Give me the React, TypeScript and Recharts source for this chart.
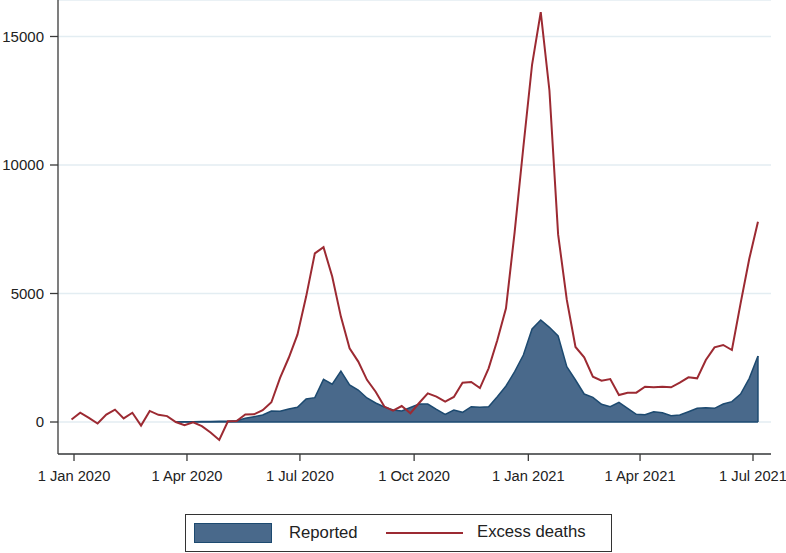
import React from 'react';
import { ComposedChart, Area, Line, XAxis, YAxis, CartesianGrid, ReferenceLine } from 'recharts';

// Weekly points (days since 1 Jan 2020), first week ends 30 Dec 2019
const firstDay = -2;

const excessDeaths: number[] = [
  100, 360, 160, -60, 290, 480, 140, 360, -140, 430,
  280, 230, 0, -120, -10, -160, -410, -700, 30, 40,
  290, 300, 460, 770, 1720, 2500, 3400, 4880, 6560, 6800,
  5660, 4100, 2870, 2350, 1640, 1180, 600, 440, 620, 340,
  740, 1116, 985, 790, 975, 1530, 1556, 1320, 2090, 3180,
  4424, 7400, 10700, 13900, 15950, 12900, 7300, 4750, 2920, 2517,
  1764, 1608, 1673, 1051, 1141, 1141, 1375, 1349, 1375, 1349,
  1529, 1738, 1699, 2412, 2905, 2996, 2801, 4618, 6350, 7794,
];

const reported: (number | null)[] = [
  null, null, null, null, null, null, null, null, null, null,
  null, null, 0, 5, 10, 15, 20, 25, 30, 51,
  143, 207, 272, 428, 415, 506, 571, 895, 947, 1660,
  1470, 1980, 1440, 1245, 935, 740, 585, 467, 428, 565,
  700, 700, 493, 298, 467, 376, 596, 571, 596, 985,
  1401, 1958, 2607, 3619, 3969, 3684, 3346, 2152, 1634, 1089,
  961, 689, 596, 766, 533, 298, 285, 401, 362, 246,
  272, 401, 533, 558, 533, 700, 791, 1089, 1700, 2568,
];

const tickDays: number[] = [0, 91, 182, 274, 366, 456, 547];
const tickLabels: string[] = ['1 Jan 2020', '1 Apr 2020', '1 Jul 2020', '1 Oct 2020', '1 Jan 2021', '1 Apr 2021', '1 Jul 2021'];
const yTicks: number[] = [0, 5000, 10000, 15000];
const seriesNames = { reported: 'Reported', excess: 'Excess deaths' };

const data = excessDeaths.map((v, i) => ({
  day: firstDay + 7 * i,
  excess: v,
  reported: reported[i],
}));

const firstReportedIdx = reported.findIndex((v) => v !== null);
const lastIdx = reported.length - 1;

const FONT = '"Liberation Sans", Arial, sans-serif';
const FILL = '#49698b';
const EDGE = '#1d4a70';
const RED = '#9c2a32';
const AXIS = '#3a3a3a';

export default function App() {
  const labelFor = (d: number) => {
    const k = tickDays.indexOf(d);
    return k >= 0 ? tickLabels[k] : '';
  };
  return (
    <div style={{ position: 'absolute', left: 0, top: 0, width: 786, height: 553, background: '#fff', fontFamily: FONT }}>
      <ComposedChart
        width={786}
        height={553}
        data={data}
        margin={{ top: 0, right: 15, bottom: 59, left: 0 }}
      >
        <CartesianGrid horizontal vertical={false} stroke="#e3edf2" strokeWidth={1.3} />
        <XAxis
          type="number"
          dataKey="day"
          domain={[-12.9, 561.5]}
          allowDataOverflow
          ticks={tickDays}
          tickFormatter={labelFor}
          height={40}
          tickSize={7}
          tickMargin={10}
          stroke={AXIS}
          strokeWidth={1.3}
          tick={{ fill: '#222', fontSize: 14.7, fontFamily: FONT }}
          interval={0}
        />
        <YAxis
          type="number"
          domain={[-1245, 16420]}
          allowDataOverflow
          ticks={yTicks}
          width={58}
          tickSize={8}
          tickMargin={6}
          stroke={AXIS}
          strokeWidth={1.3}
          tick={{ fill: '#222', fontSize: 15, fontFamily: FONT }}
          interval={0}
        />
        <Area
          type="linear"
          dataKey="reported"
          baseValue={0}
          fill={FILL}
          fillOpacity={1}
          stroke={EDGE}
          strokeWidth={1.5}
          isAnimationActive={false}
          dot={false}
          activeDot={false}
        />
        <ReferenceLine
          segment={[{ x: data[firstReportedIdx].day, y: 0 }, { x: data[lastIdx].day, y: 0 }]}
          stroke={EDGE}
          strokeWidth={1.5}
        />
        <ReferenceLine
          segment={[{ x: data[lastIdx].day, y: 0 }, { x: data[lastIdx].day, y: reported[lastIdx] as number }]}
          stroke={EDGE}
          strokeWidth={1.5}
        />
        <Line
          type="linear"
          dataKey="excess"
          stroke={RED}
          strokeWidth={2}
          dot={false}
          activeDot={false}
          isAnimationActive={false}
        />
      </ComposedChart>
      <div
        style={{
          position: 'absolute',
          left: 185,
          top: 514,
          width: 425,
          height: 36,
          border: '1px solid #333',
          boxSizing: 'content-box',
          fontFamily: FONT,
          fontSize: 16.7,
          color: '#222',
        }}
      >
        <div style={{ position: 'absolute', left: 8, top: 8, width: 76, height: 18, background: FILL, border: `1px solid ${EDGE}` }} />
        <div style={{ position: 'absolute', left: 103, top: 8, lineHeight: '20px', whiteSpace: 'nowrap' }}>{seriesNames.reported}</div>
        <div style={{ position: 'absolute', left: 200, top: 17, width: 77, height: 2, background: RED }} />
        <div style={{ position: 'absolute', left: 291, top: 7, lineHeight: '20px', whiteSpace: 'nowrap' }}>{seriesNames.excess}</div>
      </div>
    </div>
  );
}
